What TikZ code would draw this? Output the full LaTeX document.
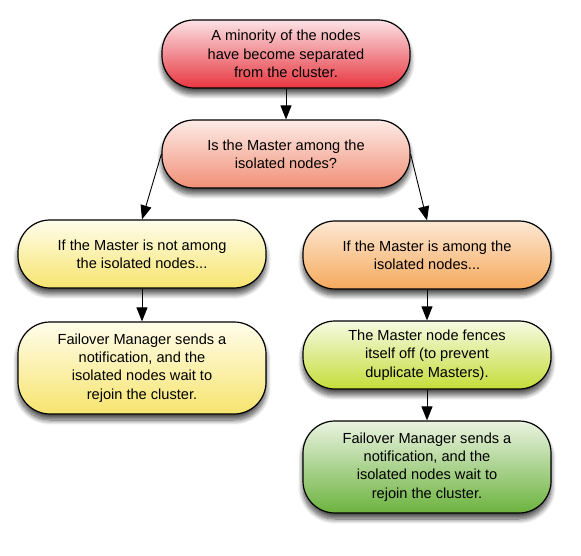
\documentclass[tikz,border=0pt]{standalone}
\usepackage{fontspec}
\setmainfont{Liberation Sans}
\usetikzlibrary{arrows.meta, shadows.blur}

\definecolor{redtop}{HTML}{FBE2E5}
\definecolor{redbot}{HTML}{E8363F}
\definecolor{salmontop}{HTML}{FDEBE6}
\definecolor{salmonbot}{HTML}{F19077}
\definecolor{yellowtop}{HTML}{FFFDEB}
\definecolor{yellowbot}{HTML}{F6E46E}
\definecolor{orangetop}{HTML}{FDE8D3}
\definecolor{orangebot}{HTML}{F5A95C}
\definecolor{limetop}{HTML}{F6FAE2}
\definecolor{limebot}{HTML}{C5DD3A}
\definecolor{greentop}{HTML}{EAF3E1}
\definecolor{greenbot}{HTML}{6CB33E}

\begin{document}
\begin{tikzpicture}[x=1pt, y=1pt,
        flowbox/.style={draw, line width=1.2pt, rectangle, rounded corners=32pt, minimum width=248pt,
            align=center, font=\fontsize{14.6}{18.3}\selectfont,
            blur shadow={shadow xshift=0pt, shadow yshift=-6pt, shadow blur radius=5pt,
                shadow opacity=70, shadow blur steps=10}},
        flowarrow/.style={-{Triangle[length=14pt, width=11pt]}, line width=0.9pt}]
        \useasboundingbox (0,0) rectangle (581,555);
        % Nodes
        \node[flowbox, minimum height=68pt, top color=redtop, bottom color=redbot] (split) at (286, 501) {A minority of the nodes\\have become separated\\from the cluster.};
        \node[flowbox, minimum height=68pt, top color=salmontop, bottom color=salmonbot] (question) at (286, 401) {Is the Master among the\\isolated nodes?};
        \node[flowbox, minimum height=68pt, top color=yellowtop, bottom color=yellowbot] (notamong) at (142, 301) {If the Master is not among\\the isolated nodes...};
        \node[flowbox, minimum height=92pt, top color=yellowtop, bottom color=yellowbot] (waitleft) at (142, 187) {Failover Manager sends a\\notification, and the\\isolated nodes wait to\\rejoin the cluster.};
        \node[flowbox, minimum height=68pt, top color=orangetop, bottom color=orangebot] (among) at (427, 300) {If the Master is among the\\isolated nodes...};
        \node[flowbox, minimum height=68pt, top color=limetop, bottom color=limebot] (fence) at (427, 200) {The Master node fences\\itself off (to prevent\\duplicate Masters).};
        \node[flowbox, minimum height=92pt, top color=greentop, bottom color=greenbot] (waitright) at (427, 88) {Failover Manager sends a\\notification, and the\\isolated nodes wait to\\rejoin the cluster.};

        % Arrows
        \draw[flowarrow] (split) -- (question);
        \draw[flowarrow] (question.west) -- (notamong.north);
        \draw[flowarrow] (question.east) -- (among.north);
        \draw[flowarrow] (notamong) -- (waitleft);
        \draw[flowarrow] (among) -- (fence);
        \draw[flowarrow] (fence) -- (waitright);
\end{tikzpicture}
\end{document}
